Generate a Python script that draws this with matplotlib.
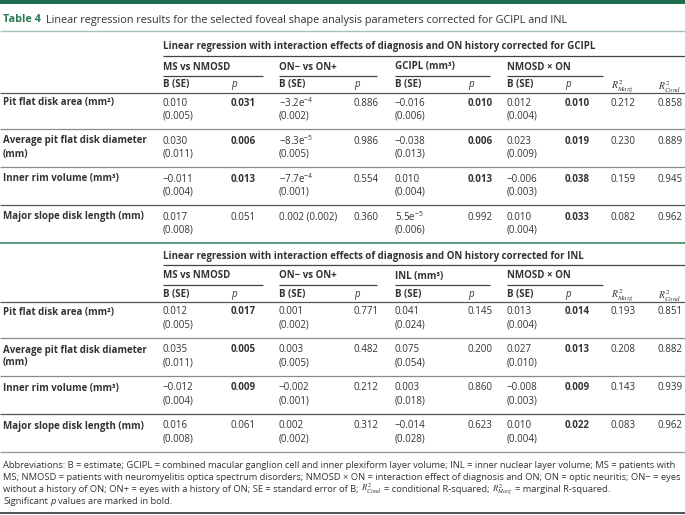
import matplotlib
matplotlib.use("Agg")
import matplotlib.pyplot as plt

plt.rcParams['font.family'] = ['Open Sans', 'DejaVu Sans']
plt.rcParams['mathtext.fontset'] = 'custom'
plt.rcParams['mathtext.rm'] = 'Open Sans'
plt.rcParams['mathtext.it'] = 'Open Sans:italic'
plt.rcParams['mathtext.bf'] = 'Open Sans:bold'

### DATA

titre = "Linear regression results for the selected foveal shape analysis parameters corrected for GCIPL and INL"
lignes = ["Pit flat disk area (mm²)", "Average pit flat disk diameter\n(mm)",
          "Inner rim volume (mm³)", "Major slope disk length (mm)"]

sections = ["Linear regression with interaction effects of diagnosis and ON history corrected for GCIPL",
            "Linear regression with interaction effects of diagnosis and ON history corrected for INL"]
groupes_gcipl = ["MS vs NMOSD", "ON− vs ON+", "GCIPL (mm³)", "NMOSD × ON"]
groupes_inl = ["MS vs NMOSD", "ON− vs ON+", "INL (mm³)", "NMOSD × ON"]

# GCIPL
ms_b_gcipl = ["0.010\n(0.005)", "0.030\n(0.011)", "−0.011\n(0.004)", "0.017\n(0.008)"]
ms_p_gcipl = ["0.031", "0.006", "0.013", "0.051"]
on_b_gcipl = ["−3.2e$^{−4}$\n(0.002)", "−8.3e$^{−5}$\n(0.005)", "−7.7e$^{−4}$\n(0.001)", "0.002 (0.002)"]
on_p_gcipl = ["0.886", "0.986", "0.554", "0.360"]
cov_b_gcipl = ["−0.016\n(0.006)", "−0.038\n(0.013)", "0.010\n(0.004)", "5.5e$^{−5}$\n(0.006)"]
cov_p_gcipl = ["0.010", "0.006", "0.013", "0.992"]
int_b_gcipl = ["0.012\n(0.004)", "0.023\n(0.009)", "−0.006\n(0.003)", "0.010\n(0.004)"]
int_p_gcipl = ["0.010", "0.019", "0.038", "0.033"]
r2m_gcipl = ["0.212", "0.230", "0.159", "0.082"]
r2c_gcipl = ["0.858", "0.889", "0.945", "0.962"]

# INL
ms_b_inl = ["0.012\n(0.005)", "0.035\n(0.011)", "−0.012\n(0.004)", "0.016\n(0.008)"]
ms_p_inl = ["0.017", "0.005", "0.009", "0.061"]
on_b_inl = ["0.001\n(0.002)", "0.003\n(0.005)", "−0.002\n(0.001)", "0.002\n(0.002)"]
on_p_inl = ["0.771", "0.482", "0.212", "0.312"]
cov_b_inl = ["0.041\n(0.024)", "0.075\n(0.054)", "0.003\n(0.018)", "−0.014\n(0.028)"]
cov_p_inl = ["0.145", "0.200", "0.860", "0.623"]
int_b_inl = ["0.013\n(0.004)", "0.027\n(0.010)", "−0.008\n(0.003)", "0.010\n(0.004)"]
int_p_inl = ["0.014", "0.013", "0.009", "0.022"]
r2m_inl = ["0.193", "0.208", "0.143", "0.083"]
r2c_inl = ["0.851", "0.882", "0.939", "0.962"]

# notes : morceaux séparés par une espace ; style "m" = formule R2, "i" = italique
notes = [[("Abbreviations: B = estimate; GCIPL = combined macular ganglion cell and inner plexiform layer volume; INL = inner nuclear layer volume; MS = patients with", "")],
         [("MS; NMOSD = patients with neuromyelitis optica spectrum disorders; NMOSD × ON = interaction effect of diagnosis and ON; ON = optic neuritis; ON− = eyes", "")],
         [("without a history of ON; ON+ = eyes with a history of ON; SE = standard error of B;", ""),
          (r"$R^2_{Cond}$", "m"), ("= conditional R-squared;", ""),
          (r"$R^2_{Marg}$", "m"), ("= marginal R-squared.", "")],
         [("Significant", ""), ("p", "i"), ("values are marked in bold.", "")]]

### MISE EN PAGE

vert = "#1d6b4c"
texte = "#333333"
fs = 7.0
fs_note = 6.78

# colonnes : B (SE) et p pour chaque groupe, puis R2
x_col = [163, 231, 279, 354, 395, 468, 507, 565, 611, 658]
x_grp_fin = [263, 377, 490, 603]

fig = plt.figure(figsize=(6.85, 5.15), dpi=100)
ax = fig.add_axes([0, 0, 1, 1])
ax.set_xlim(0, 685)
ax.set_ylim(515, 0)
ax.axis("off")


def trait(y, x0=0, x1=685, couleur="#999999", ep=0.8):
    ax.plot([x0, x1], [y, y], color=couleur, lw=ep, solid_capstyle="butt")


def cellule(x, y, s, gras=False, **kw):
    for i, morceau in enumerate(s.split("\n")):
        ax.text(x, y + i * 13, morceau, fontsize=fs, color=texte, va="center",
                fontweight="bold" if gras else "normal", **kw)


def section(y0, titre_sec, groupes, donnees):
    ax.text(163, y0, titre_sec, fontsize=fs, fontweight="bold", color=texte, va="center")
    trait(y0 + 9, 163, 685, "#444444", 0.9)
    for g, nom in enumerate(groupes):
        ax.text(x_col[2 * g], y0 + 20, nom, fontsize=fs, fontweight="bold", color=texte, va="center")
        trait(y0 + 29, x_col[2 * g], x_grp_fin[g], "#444444", 0.9)
        ax.text(x_col[2 * g], y0 + 38, "B (SE)", fontsize=fs, fontweight="bold", color=texte, va="center")
        ax.text(x_col[2 * g + 1], y0 + 38, "p", fontsize=fs, style="italic", color=texte, va="center")
    ax.text(x_col[8], y0 + 40, r"$R^2_{Marg}$", fontsize=fs, color=texte, va="center", math_fontfamily="stix")
    ax.text(x_col[9], y0 + 40, r"$R^2_{Cond}$", fontsize=fs, color=texte, va="center", math_fontfamily="stix")
    trait(y0 + 46, couleur="#555555", ep=0.9)

    for r, nom in enumerate(lignes):
        y = y0 + 56 + r * 38
        cellule(3, y, nom, gras=True)
        for c, col in enumerate(donnees):
            val = col[r]
            gras = (c % 2 == 1) and c < 8 and float(val) < 0.05
            cellule(x_col[c], y, val, gras=gras)
        if r < 3:
            trait(y + 26, couleur="#8a8a8a" if r < 2 else "#555555", ep=0.9)


# bandeau et titre
ax.add_patch(plt.Rectangle((0, 0), 685, 4, color=vert, lw=0))
ax.text(3, 20, "Table 4", fontsize=7.8, fontweight="bold", color="#2a7a55", va="center")
ax.text(46, 20, titre, fontsize=7.8, color=texte, va="center")
trait(31, couleur="#a9c2b5", ep=1.0)

section(47, sections[0], groupes_gcipl,
        [ms_b_gcipl, ms_p_gcipl, on_b_gcipl, on_p_gcipl, cov_b_gcipl, cov_p_gcipl,
         int_b_gcipl, int_p_gcipl, r2m_gcipl, r2c_gcipl])
trait(243, couleur="#3f8a66", ep=1.2)

section(256, sections[1], groupes_inl,
        [ms_b_inl, ms_p_inl, on_b_inl, on_p_inl, cov_b_inl, cov_p_inl,
         int_b_inl, int_p_inl, r2m_inl, r2c_inl])
trait(452, couleur="#999999", ep=1.0)

# notes : morceaux posés bout à bout sur une même ligne de base
fig.canvas.draw()
rendu = fig.canvas.get_renderer()
espace = 2.4
for i, morceaux in enumerate(notes):
    x = 3
    for s, style in morceaux:
        t = ax.text(x, 467.5 + i * 12, s, color=texte, va="baseline",
                    fontsize=fs_note - 0.6 if style == "m" else fs_note,
                    style="italic" if style == "i" else "normal",
                    math_fontfamily="stix" if style == "m" else "custom")
        bb = t.get_window_extent(renderer=rendu).transformed(ax.transData.inverted())
        x = max(bb.x0, bb.x1) + espace

trait(513, couleur="#333333", ep=1.2)

plt.savefig("out.png", dpi=100)
